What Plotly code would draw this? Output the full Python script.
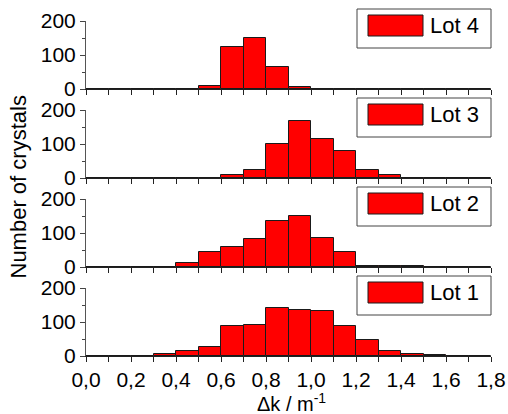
import plotly.graph_objects as go

# ---- data ----
bin_centers = [0.05, 0.15, 0.25, 0.35, 0.45, 0.55, 0.65, 0.75, 0.85,
               0.95, 1.05, 1.15, 1.25, 1.35, 1.45, 1.55, 1.65, 1.75]
lot_names = ["Lot 1", "Lot 2", "Lot 3", "Lot 4"]
counts_lot1 = [0, 0, 0, 7, 16, 27, 89, 92, 140, 135, 133, 89, 48, 16, 5, 3, 0, 0]
counts_lot2 = [0, 0, 0, 0, 12, 44, 58, 83, 135, 151, 85, 45, 4, 4, 2, 0, 0, 0]
counts_lot3 = [0, 0, 0, 0, 0, 1, 8, 24, 101, 167, 114, 78, 24, 9, 0, 0, 0, 0]
counts_lot4 = [0, 0, 0, 0, 0, 8, 123, 149, 66, 7, 0, 0, 0, 0, 0, 0, 0, 0]
all_counts = [counts_lot1, counts_lot2, counts_lot3, counts_lot4]
x_title = "\u0394k / m<sup>-1</sup>"
y_title = "Number of crystals"

FONT = "Liberation Sans, Arial, sans-serif"
W, H = 508, 414
ML, MR, MT, MB = 86, 17, 21, 58
PH = H - MT - MB          # plot height in px
panel_px, gap_px = 68, 21
pw = W - ML - MR

fig = go.Figure()
layout = dict(
    width=W, height=H,
    margin=dict(l=ML, r=MR, t=MT, b=MB, pad=0, autoexpand=False),
    paper_bgcolor="white", plot_bgcolor="white",
    separators=",.",
    font=dict(family=FONT, size=21, color="black"),
    bargap=0, showlegend=False,
)
shapes, annotations = [], []

for i, (name, vals) in enumerate(zip(lot_names, all_counts)):
    s = "" if i == 0 else str(i + 1)
    fig.add_trace(go.Bar(
        x=bin_centers, y=vals, width=0.1,
        marker=dict(color="#FF0000", line=dict(color="#1a1a1a", width=1)),
        xaxis="x" + s, yaxis="y" + s, name=name,
    ))
    bottom = i * (panel_px + gap_px) / PH
    top = (i * (panel_px + gap_px) + panel_px) / PH
    layout["xaxis" + s] = dict(
        range=[0, 1.8], anchor="y" + s, domain=[0, 1], automargin=False,
        tick0=0, dtick=0.2, tickformat=".1f",
        ticks="outside", ticklen=5, tickwidth=1, tickcolor="#222222",
        minor=dict(dtick=0.1, ticks="outside", ticklen=5, tickwidth=1, tickcolor="#222222"),
        showline=True, linecolor="#222222", linewidth=1,
        showgrid=False, zeroline=False,
        showticklabels=(i == 0),
        tickfont=dict(family=FONT, size=21, color="black"),
    )
    layout["yaxis" + s] = dict(
        range=[0, 200], anchor="x" + s, domain=[bottom, top], automargin=False,
        tick0=0, dtick=100,
        ticks="outside", ticklen=5, tickwidth=1, tickcolor="#444444",
        minor=dict(dtick=50, ticks="outside", ticklen=3, tickwidth=1, tickcolor="#444444"),
        showline=True, linecolor="#555555", linewidth=1,
        showgrid=False, zeroline=False,
        tickfont=dict(family=FONT, size=21, color="black"),
    )
    # legend box for this panel
    xr, yr = "x" + s + " domain", "y" + s + " domain"
    shapes.append(dict(type="rect", xref=xr, yref=yr,
                       x0=(357 - ML) / pw, x1=(491 - ML) / pw,
                       y0=1 - 27 / panel_px, y1=1 + 12 / panel_px,
                       line=dict(color="#444444", width=1), fillcolor="white",
                       layer="above"))
    shapes.append(dict(type="rect", xref=xr, yref=yr,
                       x0=(368 - ML) / pw, x1=(423 - ML) / pw,
                       y0=1 - 15 / panel_px, y1=1 + 6 / panel_px,
                       line=dict(color="#1a1a1a", width=1), fillcolor="#FF0000",
                       layer="above"))
    annotations.append(dict(xref=xr, yref=yr, x=(428 - ML) / pw,
                            y=1 - 4.5 / panel_px, text=name, showarrow=False,
                            xanchor="left", yanchor="middle",
                            font=dict(family=FONT, size=22, color="black")))

annotations.append(dict(xref="paper", yref="paper", x=(18 - ML) / pw,
                        y=(356 - 187.5) / PH,
                        text=y_title, textangle=-90, showarrow=False,
                        xanchor="center", yanchor="middle",
                        font=dict(family=FONT, size=22, color="black")))
annotations.append(dict(xref="paper", yref="paper", x=(291 - ML) / pw,
                        y=-32 / PH,
                        text=x_title, showarrow=False,
                        xanchor="center", yanchor="top",
                        font=dict(family=FONT, size=20, color="black")))

layout["shapes"] = shapes
layout["annotations"] = annotations
fig.update_layout(**layout)
fig.write_html("out.html")
